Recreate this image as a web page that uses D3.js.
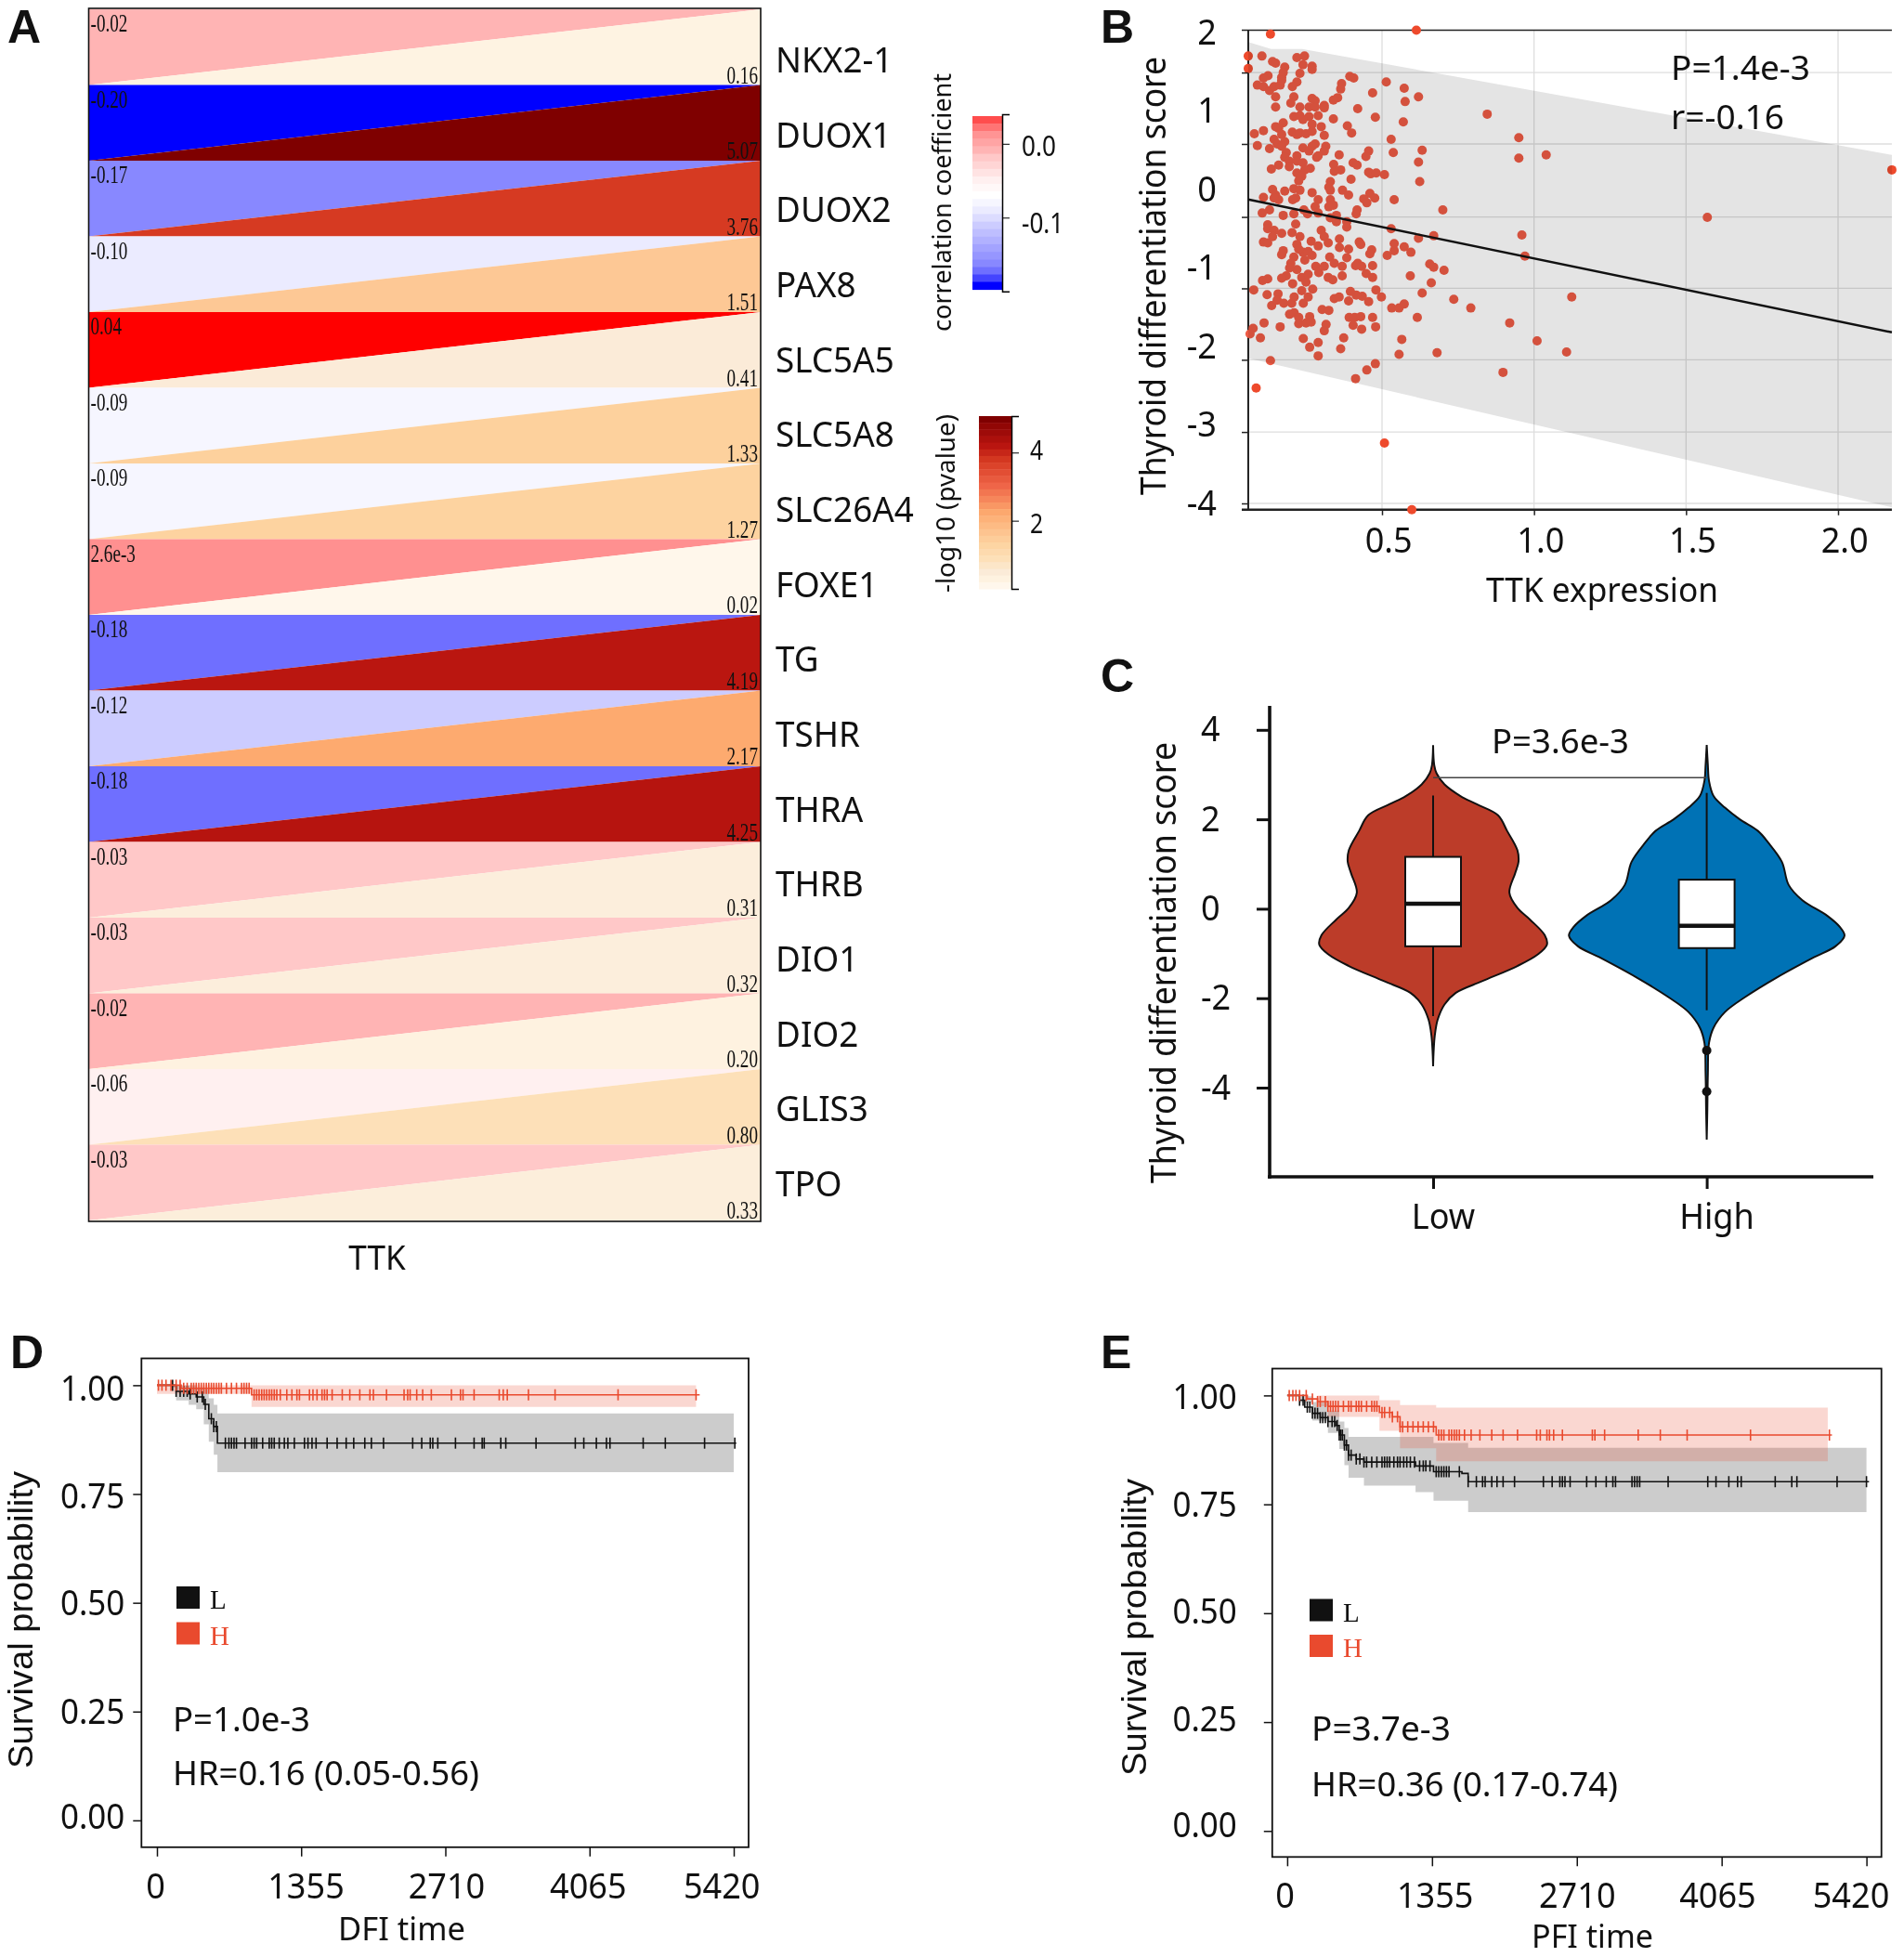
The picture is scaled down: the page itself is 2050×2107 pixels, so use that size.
<!DOCTYPE html>
<html>
<head>
<meta charset="utf-8">
<script src="https://cdn.jsdelivr.net/npm/d3@7"></script>
<style>
  body { margin: 0; background: #fff; }
  text { font-family: "Noto Sans", sans-serif; fill: #111; }
</style>
</head>
<body>
<svg id="fig" width="2050" height="2107"></svg>
<script>
// panel A
const genes = ["NKX2-1","DUOX1","DUOX2","PAX8","SLC5A5","SLC5A8","SLC26A4","FOXE1","TG","TSHR","THRA","THRB","DIO1","DIO2","GLIS3","TPO"];
const corrValues = [-0.02,-0.20,-0.17,-0.10,0.04,-0.09,-0.09,0.0026,-0.18,-0.12,-0.18,-0.03,-0.03,-0.02,-0.06,-0.03];
const corrText = ["-0.02","-0.20","-0.17","-0.10","0.04","-0.09","-0.09","2.6e-3","-0.18","-0.12","-0.18","-0.03","-0.03","-0.02","-0.06","-0.03"];
const logP = [0.16,5.07,3.76,1.51,0.41,1.33,1.27,0.02,4.19,2.17,4.25,0.31,0.32,0.20,0.80,0.33];
const corrStops = [-0.2,-0.19,-0.18,-0.17,-0.12,-0.10,-0.09,-0.08,-0.06,-0.03,-0.02,0.0026,0.04];
const corrColors = ["#0000ff","#4444ff","#6f6fff","#8888ff","#ccccff","#ebebff","#f6f6ff","#ffffff","#fff0f0","#ffc8c8","#ffb4b4","#ff9090","#ff0000"];
const pStops = [0,0.16,0.41,0.8,1.3,1.51,2.17,3,3.76,4.2,5.07];
const pColors = ["#fff7ec","#fef3e2","#fbebd8","#fde0b8","#fdd29e","#fdc895","#fdaa6f","#ef6548","#d63a22","#b91510","#7f0000"];
const corrLegendBins = [0.02,0.01,0,-0.01,-0.02,-0.03,-0.04,-0.05,-0.06,-0.07,-0.08,-0.09,-0.10,-0.11,-0.12,-0.13,-0.14,-0.15,-0.16,-0.17,-0.18,-0.19,-0.20];
const pLegendBins = [5.07,4.8,4.6,4.4,4.2,4,3.8,3.6,3.4,3.2,3,2.8,2.6,2.4,2.2,2,1.8,1.6,1.4,1.2,1,0.8,0.6,0.4,0.2,0];

// panel B, [TTK, score]
const scatterPoints = [[.105,1.70],[.14,1.63],[.15,1.61],[.22,1.68],[.245,1.70],[.24,1.59],[.27,1.57],[.27,1.53],[.18,1.56],[.175,1.49],[.17,1.43],[.23,1.48],[.125,1.45],[.11,1.42],[.09,1.33],[.11,1.31],[.13,1.26],[.145,1.31],[.165,1.33],[.17,1.39],[.22,1.37],[.205,1.31],[.15,1.18],[.15,1.05],[.21,1.18],[.20,1.10],[.27,1.16],[.28,1.13],[.23,1.05],[.26,1.05],[.28,1.05],[.31,1.07],[.31,1.04],[.21,.93],[.23,.94],[.26,.93],[.24,.89],[.29,.94],[.27,.83],[.30,.80],[.175,.85],[.15,.80],[.16,.78],[.08,.71],[.11,.75],[.205,.73],[.22,.70],[.23,.72],[.25,.71],[.27,.74],[.31,.69],[.17,.70],[.145,.64],[.18,.61],[.09,.56],[.13,.52],[.155,.58],[.17,.55],[.24,.53],[.26,.49],[.28,.58],[.27,.55],[.315,.55],[.31,.49],[.285,.41],[.29,.43],[.22,.43],[.185,.47],[.18,.41],[.195,.36],[.16,.31],[.195,.29],[.136,.26],[.22,.36],[.24,.34],[.264,.27],[.246,.25],[.22,.21],[.236,.17],[.226,.11],[.14,.00],[.18,-.02],[.15,-.07],[.16,-.13],[.11,-.10],[.145,-.11],[.21,.01],[.23,-.01],[.216,-.11],[.206,-.13],[.27,-.04],[.29,-.13],[.28,-.22],[.33,.10],[.325,.03],[.33,-.01],[.33,-.13],[.34,-.20],[.325,-.22],[.37,-.01],[.39,-.07],[.46,-.05],[.476,-.11],[.44,-.12],[.45,-.17],[.54,-.13],[.70,-.26],[.13,-.26],[.106,-.30],[.175,-.33],[.21,-.31],[.243,-.26],[.255,-.31],[.29,-.30],[.35,-.33],[.33,-.36],[.35,-.41],[.384,-.41],[.384,-.48],[.418,-.26],[.415,-.31],[.216,-.44],[.124,-.45],[.124,-.50],[.145,-.52],[.14,-.60],[.17,-.56],[.204,-.55],[.23,-.60],[.11,-.67],[.124,-.68],[.30,-.52],[.31,-.60],[.323,-.68],[.36,-.63],[.36,-.74],[.39,-.76],[.425,-.67],[.43,-.70],[.466,-.77],[.46,-.82],[.517,-.84],[.54,-.78],[.54,-.69],[.573,-.73],[.595,-.80],[.53,-.50],[.62,-.62],[.67,-.59],[.96,-.58],[.97,-.85],[.22,-.70],[.175,-.78],[.17,-.83],[.21,-.86],[.24,-.80],[.267,-.66],[.29,-.72],[.27,-.84],[.246,-.90],[.20,-.94],[.328,-.86],[.343,-.94],[.384,-.87],[.369,-.98],[.42,-.94],[.433,-.98],[.413,-.97],[.469,-.97],[.448,-1.07],[.469,-1.12],[.657,-.95],[.67,-.99],[.704,-1.03],[.593,-1.10],[.662,-1.19],[.22,-1.02],[.185,-1.10],[.17,-1.13],[.206,-1.20],[.236,-1.12],[.25,-1.18],[.282,-.98],[.292,-1.06],[.31,-.98],[.323,-1.12],[.338,-1.15],[.369,-1.10],[.95,.66],[.95,.40],[1.04,.44],[.846,.96],[.53,.64],[.537,.47],[.632,.50],[.62,.35],[.624,.10],[.57,.86],[.478,.92],[.62,1.18],[.576,1.12],[.573,1.29],[.514,1.37],[.469,1.23],[.42,1.03],[.394,1.44],[.407,1.42],[.367,1.35],[.364,1.28],[.354,1.17],[.34,1.14],[.34,.90],[.386,.81],[.40,.72],[.456,.49],[.447,.42],[.359,.44],[.405,.34],[.418,.31],[.341,.32],[.364,.25],[.343,.23],[.398,.13],[.456,.22],[.463,.20],[.481,.21],[.508,.19],
[.078,-1.28],[.122,-1.34],[.158,-1.33],[.107,-1.16],[.124,-1.14],[.137,-1.48],[.155,-1.41],[.177,-1.45],[.203,-1.45],[.211,-1.37],[.236,-1.29],[.257,-1.37],[.272,-1.27],[.241,-1.45],[.196,-1.59],[.211,-1.57],[.226,-1.63],[.226,-1.71],[.262,-1.62],[.25,-1.70],[.267,-1.69],[.112,-1.70],[.165,-1.75],[.076,-1.77],[.066,-1.84],[.10,-1.89],[.316,-1.72],[.31,-1.80],[.241,-1.90],[.29,-1.95],[.262,-2.01],[.29,-2.12],[.374,-1.89],[.364,-2.03],[.39,-1.42],[.343,-1.39],[.359,-1.37],[.303,-1.53],[.325,-1.54],[.392,-1.63],[.41,-1.63],[.43,-1.62],[.469,-1.63],[.479,-1.75],[.405,-1.73],[.433,-1.78],[.456,-1.43],[.435,-1.36],[.415,-1.345],[.396,-1.30],[.48,-1.28],[.498,-1.37],[.532,-1.51],[.556,-1.51],[.573,-1.46],[.616,-1.63],[.565,-1.91],[.556,-2.10],[.681,-2.08],[.632,-1.32],[.736,-1.40],[.792,-1.51],[.92,-1.70],[1.01,-1.93],[1.107,-2.07],[.898,-2.33],[1.124,-1.37],[.478,-2.22],[.45,-2.30],[.413,-2.41],[.133,-2.18],
[.226,-.76],[.257,-.79],[.196,-1.0],[.257,-1.08],[1.57,-.355]];
const scatterOutliers = [[.133,1.98],[.613,2.03],[.06,1.70],[.06,1.54],[.086,-2.53],[.508,-3.23],[.598,-4.08],[2.177,.25]];
const bandTop = [[.06,1.88],[.135,1.79],[.237,1.79],[2.177,.44]];
const bandBottom = [[.06,-2.15],[2.177,-4.05]];
const fitLine = [[.06,-.127],[2.177,-1.82]];
const scatterGridY = [1.49,.58,-.35,-1.26,-2.17,-3.09,-4];
const scatterYLabels = [2,1,0,-1,-2,-3,-4];
const scatterXTicks = [.5,1,1.5,2];

// panel C
const lowScore = [3.66,3.21,3.03,2.78,2.52,2.34,2.09,1.74,1.31,1.05,.79,.36,.02,-.24,-.59,-.80,-1.02,-1.28,-1.62,-1.88,-2.14,-2.48,-2.83,-3.17,-3.52];
const lowDensity = [0,.01,.03,.10,.24,.38,.57,.65,.74,.75,.72,.67,.74,.85,.98,1,.92,.74,.43,.20,.10,.04,.015,.005,0];
const highScore = [3.66,3.21,2.86,2.52,2.26,2,1.74,1.48,1.05,.53,.19,-.16,-.41,-.60,-.84,-1.10,-1.53,-1.97,-2.31,-2.66,-3,-3.69,-4.55,-5.16];
const highDensity = [0,.01,.02,.06,.16,.29,.45,.54,.66,.72,.84,1.06,1.17,1.21,1.13,.93,.62,.34,.16,.06,.02,.01,.005,0];
const groups = ["Low","High"];
const boxLow = {lo:-2.40,q1:-.84,med:.11,q3:1.16,hi:2.53};
const boxHigh = {lo:-2.27,q1:-.88,med:-.38,q3:.65,hi:2.59};
const highOutliers = [-3.17,-4.09];

// panels D and E
const kmXTicks = [0,1355,2710,4065,5420];
const kmYTicks = [1,.75,.5,.25,0];
const dfiLowT = [0,132,180,298,369,440,487,534,568,5444];
const dfiLowS = [1,1,.986,.98,.973,.956,.923,.905,.867,.867];
const dfiLowBandT = [132,180,298,369,440,487,534,568,5420];
const dfiLowBandLo = [.995,.965,.955,.945,.91,.87,.84,.80,.80];
const dfiLowBandHi = [1,1,1,.995,.99,.97,.955,.935,.935];
const dfiLowCens = [147,180,218,251,284,312,378,426,454,511,534,558,643,676,700,724,747,828,889,913,937,993,1055,1078,1102,1149,1197,1230,1291,1386,1419,1457,1495,1599,1693,1778,1849,1953,2015,2129,2403,2488,2568,2592,2639,2805,2980,3056,3075,3231,3278,3562,3931,4011,4129,4224,4257,4569,4777,5146,5430];
const dfiHighT = [0,227,889,5100];
const dfiHighS = [1,.993,.978,.978];
const dfiHighBandT = [0,889,5066];
const dfiHighBandLo = [.98,.95,.95];
const dfiHighBandHi = [1,1,1];
const dfiHighCens = [14,47,85,132,180,218,251,284,322,345,369,393,416,440,464,487,511,534,558,582,605,653,700,747,795,818,842,866,913,937,960,984,1007,1031,1055,1078,1102,1126,1159,1220,1268,1315,1339,1433,1466,1504,1551,1575,1599,1646,1741,1812,1906,2001,2034,2157,2322,2356,2379,2441,2497,2578,2767,2852,2876,2980,3216,3254,3292,3491,3741,4333,5066];

const pfiLowT = [0,68,116,164,236,309,381,453,487,535,574,646,718,1201,1369,1635,1693,5444];
const pfiLowS = [1,1,.989,.973,.959,.949,.94,.931,.909,.886,.863,.854,.847,.838,.825,.821,.802,.802];
const pfiLowBandT = [68,116,236,381,487,535,574,718,1201,1369,1693,5420];
const pfiLowBandHi = [1,.998,.985,.965,.94,.925,.905,.905,.905,.891,.88,.88];
const pfiLowBandLo = [1,.984,.942,.914,.877,.84,.811,.793,.778,.758,.732,.732];
const pfiLowCens = [116,149,188,212,236,260,284,309,333,357,381,420,444,468,487,501,516,535,555,574,598,646,680,718,743,791,839,887,911,935,959,998,1032,1056,1090,1119,1152,1191,1239,1273,1297,1336,1394,1418,1442,1466,1490,1514,1611,1693,1770,1828,1852,1914,1963,2020,2127,2397,2479,2551,2575,2599,2647,2802,2888,2985,3047,3072,3226,3250,3274,3298,3564,3935,4012,4132,4214,4248,4566,4721,4769,5145,5420];
const pfiHighT = [0,188,284,381,863,984,1056,1394,5097];
const pfiHighS = [1,.992,.986,.975,.961,.951,.928,.909,.909];
const pfiHighBandT = [0,284,381,863,1056,1394,5058];
const pfiHighBandHi = [1,1,1,.989,.978,.972,.972];
const pfiHighBandLo = [1,.975,.951,.919,.879,.849,.849];
const pfiHighCens = [19,53,82,116,178,236,284,309,357,381,405,429,453,477,526,574,598,646,670,694,743,791,815,839,887,911,959,984,1032,1056,1080,1128,1177,1225,1273,1321,1369,1418,1442,1466,1514,1538,1563,1586,1611,1659,1721,1803,1914,2020,2155,2334,2368,2430,2454,2493,2575,2855,2879,2970,3284,3491,3742,4335,5073];

const svg = d3.select("#fig");
const RED = "#e94a2e";

function txt(g, x, y, str, o = {}) {
  const t = g.append("text")
    .attr("text-anchor", o.anchor || "start")
    .attr("font-size", o.size || 35)
    .attr("transform", `translate(${x},${y})${o.rotate ? " rotate(-90)" : ""}${o.k ? ` scale(${o.k},1)` : ""}`)
    .text(str);
  if (o.len) t.attr("textLength", o.len).attr("lengthAdjust", "spacingAndGlyphs");
  if (o.fill) t.style("fill", o.fill);
  if (o.family) t.style("font-family", o.family);
  if (o.weight) t.attr("font-weight", o.weight);
  return t;
}

// narrow the axis labels, the originals are condensed
function squeeze(sel, k) {
  sel.each(function () {
    const t = d3.select(this);
    const x = +t.attr("x") || 0;
    t.attr("transform", `translate(${x},0) scale(${k},1)`).attr("x", 0);
  });
}

const letters = [["A",8,45.5],["B",1185,45.5],["C",1185,745],["D",11,1472.6],["E",1185,1472.6]];
letters.forEach(l => txt(svg, l[1], l[2], l[0], {size: 50, weight: 700, family: "Liberation Sans"}));

/* ---------- A ---------- */
const gA = svg.append("g");
const xA = d3.scaleLinear().domain([0, 1]).range([95.5, 819]);
const yA = d3.scaleBand().domain(genes).range([10, 1314]);
const yGene = d3.scalePoint().domain(genes).range([78, 1288]);
const corrColor = d3.scaleLinear().domain(corrStops).range(corrColors);
const pColor = d3.scaleLinear().domain(pStops).range(pColors);

genes.forEach((gene, i) => {
  const t = yA(gene), b = t + yA.bandwidth();
  gA.append("polygon")
    .attr("points", [[xA(0), t], [xA(1), t], [xA(0), b]].join(" "))
    .attr("fill", corrColor(corrValues[i]));
  gA.append("polygon")
    .attr("points", [[xA(1), t], [xA(1), b], [xA(0), b]].join(" "))
    .attr("fill", pColor(logP[i]));
  txt(gA, xA(0) + 2, t + 24, corrText[i], {size: 27, k: .71, family: "Liberation Serif"});
  txt(gA, xA(1) - 3, b - 2, logP[i].toFixed(2), {size: 27, k: .71, anchor: "end", family: "Liberation Serif"});
  txt(gA, 835, yGene(gene), gene, {size: 38, k: .97});
});
gA.append("rect").attr("x", xA(0)).attr("y", 9).attr("width", xA(1) - xA(0)).attr("height", 1306)
  .attr("fill", "none").attr("stroke", "#111").attr("stroke-width", 1.6);
txt(gA, 406, 1367, "TTK", {size: 37, anchor: "middle", k: .95});

// legend scales
const corrLegend = d3.scaleBand().domain(corrLegendBins).range([125, 311.6]);
gA.selectAll("rect.cl").data(corrLegendBins).join("rect").attr("class", "cl")
  .attr("x", 1047).attr("width", 32).attr("y", d => corrLegend(d))
  .attr("height", corrLegend.bandwidth() + .5).attr("fill", d => corrColor(d));
const corrAxisScale = d3.scaleLinear().domain([-0.2, 0.04]).range([313.8, 123]);
const corrAxis = gA.append("g").attr("transform", "translate(1079,0)")
  .call(d3.axisRight(corrAxisScale).tickValues([0, -0.1]).tickSize(8).tickFormat(d => d.toFixed(1)).tickPadding(13));
corrAxis.selectAll("text").attr("font-size", 30).attr("dy", d => d === 0 ? "13px" : "16px");
squeeze(corrAxis.selectAll("text"), .87);
corrAxis.select(".domain").attr("stroke-width", 1.5);
txt(gA, 1024, 357, "correlation coefficient", {size: 28, rotate: true, len: 278});

const pLegend = d3.scaleBand().domain(pLegendBins).range([448, 634]);
gA.selectAll("rect.pl").data(pLegendBins).join("rect").attr("class", "pl")
  .attr("x", 1054).attr("width", 35).attr("y", d => pLegend(d))
  .attr("height", pLegend.bandwidth() + .5).attr("fill", d => pColor(d));
const pAxisScale = d3.scaleLinear().domain([0, 5.07]).range([634, 448]);
const pAxis = gA.append("g").attr("transform", "translate(1089,0)")
  .call(d3.axisRight(pAxisScale).tickValues([2, 4]).tickSize(8).tickPadding(12).tickFormat(d => String(d)));
pAxis.selectAll("text").attr("font-size", 29).attr("dy", d => d === 4 ? "7px" : "13px");
squeeze(pAxis.selectAll("text"), .85);
pAxis.select(".domain").attr("stroke-width", 1.5);
txt(gA, 1028, 638, "-log10 (pvalue)", {size: 28, rotate: true, len: 192});

/* ---------- B ---------- */
const gB = svg.append("g");
const xB = d3.scaleLinear().domain([.5, 2]).range([1488, 1979]);
const yB = d3.scaleLinear().domain([-4, 2]).range([542, 35]);
const bLeft = xB(.06), bRight = xB(2.177), bTop = yB(2.03), bBottom = yB(-4.08);

gB.selectAll("line.gy").data(scatterGridY).join("line").attr("class", "gy")
  .attr("x1", bLeft).attr("x2", bRight).attr("y1", d => yB(d)).attr("y2", d => yB(d))
  .attr("stroke", "#dedede").attr("stroke-width", 1.3);
gB.selectAll("line.gx").data(scatterXTicks).join("line").attr("class", "gx")
  .attr("x1", d => xB(d)).attr("x2", d => xB(d)).attr("y1", bTop).attr("y2", bBottom)
  .attr("stroke", "#dedede").attr("stroke-width", 1.3);

gB.append("line").attr("x1", bLeft - 7).attr("x2", bRight).attr("y1", bTop).attr("y2", bTop)
  .attr("stroke", "#222").attr("stroke-width", 1.6);
gB.append("line").attr("x1", bLeft - 7).attr("x2", bRight).attr("y1", bBottom).attr("y2", bBottom)
  .attr("stroke", "#222").attr("stroke-width", 2.4);
gB.append("line").attr("x1", bLeft).attr("x2", bLeft).attr("y1", bTop).attr("y2", bBottom)
  .attr("stroke", "#222").attr("stroke-width", 2);

gB.selectAll("circle.pt").data(scatterPoints).join("circle").attr("class", "pt")
  .attr("cx", d => xB(d[0])).attr("cy", d => yB(d[1])).attr("r", 5).attr("fill", "#ee5a44");
gB.selectAll("circle.out").data(scatterOutliers).join("circle").attr("class", "out")
  .attr("cx", d => xB(d[0])).attr("cy", d => yB(d[1])).attr("r", 5).attr("fill", "#ee4a2c");

const bandLine = d3.line().x(d => xB(d[0])).y(d => yB(d[1]));
gB.append("path")
  .attr("d", bandLine(bandTop.concat(bandBottom.slice().reverse())) + "Z")
  .attr("fill", "#e4e4e4").style("mix-blend-mode", "multiply");
gB.append("path").attr("d", bandLine(fitLine)).attr("fill", "none").attr("stroke", "#111").attr("stroke-width", 2.4);

const yBTicks = gB.append("g").attr("transform", `translate(${bLeft},0)`)
  .call(d3.axisLeft(yB).tickValues(scatterGridY).tickSize(7).tickFormat(""));
yBTicks.select(".domain").remove();
yBTicks.selectAll("line").attr("stroke", "#222").attr("stroke-width", 1.5);

const yBLabels = gB.append("g").attr("transform", "translate(1310,0)")
  .call(d3.axisLeft(yB).tickValues(scatterYLabels).tickSize(0).tickPadding(0).tickFormat(d => String(d)));
yBLabels.select(".domain").remove();
yBLabels.selectAll("text").attr("font-size", 38);
squeeze(yBLabels.selectAll("text"), .95);

const xBAxis = gB.append("g").attr("transform", `translate(0,${bBottom})`)
  .call(d3.axisBottom(xB).tickValues(scatterXTicks).tickSize(6).tickPadding(13).tickFormat(d => d.toFixed(1)));
xBAxis.select(".domain").remove();
xBAxis.selectAll("line").attr("stroke", "#222").attr("stroke-width", 1.5);
xBAxis.selectAll("text").attr("font-size", 38).attr("dx", 7);
squeeze(xBAxis.selectAll("text"), .95);

txt(gB, 1255, 533, "Thyroid differentiation score", {size: 39, rotate: true, len: 472});
txt(gB, 1600, 648, "TTK expression", {size: 37, len: 250});
txt(gB, 1799, 86, "P=1.4e-3", {size: 36, len: 150});
txt(gB, 1799, 139, "r=-0.16", {size: 36, len: 122});

/* ---------- C ---------- */
const gC = svg.append("g");
const yC = d3.scaleLinear().domain([-4, 4]).range([1171, 785.8]);
const xC = d3.scalePoint().domain(groups).range([1543, 1837.6]);
const widthC = d3.scaleLinear().domain([0, 1]).range([0, 122.6]);

function drawViolin(cx, scores, density, color) {
  const rows = scores.map((s, i) => [s, density[i]]);
  const area = d3.area()
    .y(d => yC(d[0]))
    .x0(d => cx - widthC(d[1]))
    .x1(d => cx + widthC(d[1]))
    .curve(d3.curveCatmullRom);
  gC.append("path").attr("d", area(rows)).attr("fill", color).attr("stroke", "#111").attr("stroke-width", 2);
}
function drawBox(cx, b) {
  const hw = 30;
  gC.append("line").attr("x1", cx).attr("x2", cx).attr("y1", yC(b.hi)).attr("y2", yC(b.lo))
    .attr("stroke", "#111").attr("stroke-width", 2);
  gC.append("rect").attr("x", cx - hw).attr("width", hw * 2).attr("y", yC(b.q3)).attr("height", yC(b.q1) - yC(b.q3))
    .attr("fill", "#fff").attr("stroke", "#111").attr("stroke-width", 2);
  gC.append("line").attr("x1", cx - hw).attr("x2", cx + hw).attr("y1", yC(b.med)).attr("y2", yC(b.med))
    .attr("stroke", "#111").attr("stroke-width", 4.5);
}
drawViolin(xC("Low"), lowScore, lowDensity, "#bc3c29");
drawViolin(xC("High"), highScore, highDensity, "#0072b5");
drawBox(xC("Low"), boxLow);
drawBox(xC("High"), boxHigh);
gC.selectAll("circle").data(highOutliers).join("circle")
  .attr("cx", xC("High")).attr("cy", d => yC(d)).attr("r", 5).attr("fill", "#111");
gC.append("line").attr("x1", xC("Low")).attr("x2", xC("High")).attr("y1", yC(2.93)).attr("y2", yC(2.93))
  .attr("stroke", "#444").attr("stroke-width", 1.5);

const yCAxis = gC.append("g").attr("transform", "translate(1367,0)")
  .call(d3.axisLeft(yC).tickValues([4, 2, 0, -2, -4]).tickSize(14).tickFormat(""));
yCAxis.select(".domain").remove();
yCAxis.selectAll("line").attr("stroke", "#111").attr("stroke-width", 3);
gC.append("line").attr("x1", 1367).attr("x2", 1367).attr("y1", 760).attr("y2", 1269).attr("stroke", "#111").attr("stroke-width", 3.6);
gC.append("line").attr("x1", 1365).attr("x2", 2017).attr("y1", 1267).attr("y2", 1267).attr("stroke", "#111").attr("stroke-width", 3.6);
const yCLabels = gC.append("g").attr("transform", "translate(1293,0)")
  .call(d3.axisRight(yC).tickValues([4, 2, 0, -2, -4]).tickSize(0).tickPadding(0).tickFormat(d => String(d)));
yCLabels.select(".domain").remove();
yCLabels.selectAll("text").attr("font-size", 38);
squeeze(yCLabels.selectAll("text"), .95);
const xCAxis = gC.append("g").attr("transform", "translate(0,1267)")
  .call(d3.axisBottom(xC).tickSize(13).tickPadding(16));
xCAxis.select(".domain").remove();
xCAxis.selectAll("line").attr("stroke", "#111").attr("stroke-width", 3);
xCAxis.selectAll("text").attr("font-size", 38).attr("dx", 11);
squeeze(xCAxis.selectAll("text"), .95);
txt(gC, 1266, 1274, "Thyroid differentiation score", {size: 39, rotate: true, len: 475});
txt(gC, 1606, 811, "P=3.6e-3", {size: 36, len: 148});

/* ---------- D, E ---------- */
function drawKM(c) {
  const g = svg.append("g");
  const x = d3.scaleLinear().domain([0, 5420]).range(c.xRange);
  const y = d3.scaleLinear().domain([0, 1]).range(c.yRange);
  const { left, right, top, bottom } = c.frame;

  const band = d3.area().x(d => x(d[0])).y0(d => y(d[1])).y1(d => y(d[2])).curve(d3.curveStepAfter);
  const stepLine = d3.line().x(d => x(d[0])).y(d => y(d[1])).curve(d3.curveStepAfter);

  function series(s, stroke, fill, opacity) {
    g.append("path").attr("d", band(s.bandT.map((t, i) => [t, s.bandLo[i], s.bandHi[i]])))
      .attr("fill", fill).attr("opacity", opacity);
    return () => {
      g.append("path").attr("d", stepLine(s.t.map((t, i) => [t, s.s[i]])))
        .attr("fill", "none").attr("stroke", stroke).attr("stroke-width", 1.6);
      const surv = t => s.s[Math.max(0, d3.bisectRight(s.t, t) - 1)];
      g.append("g").selectAll("line").data(s.cens).join("line")
        .attr("x1", d => x(d)).attr("x2", d => x(d))
        .attr("y1", d => y(surv(d)) - 6).attr("y2", d => y(surv(d)) + 6)
        .attr("stroke", stroke).attr("stroke-width", 1.6);
    };
  }
  const lowLine = series(c.low, "#111", "#000", .2);
  const highLine = series(c.high, RED, RED, .22);
  lowLine();
  highLine();

  g.append("rect").attr("x", left).attr("y", top).attr("width", right - left).attr("height", bottom - top)
    .attr("fill", "none").attr("stroke", "#111").attr("stroke-width", 1.8);

  const xAxis = g.append("g").attr("transform", `translate(0,${bottom})`)
    .call(d3.axisBottom(x).tickValues(kmXTicks).tickSize(10).tickPadding(c.xPad).tickFormat(d => String(d)));
  xAxis.select(".domain").remove();
  xAxis.selectAll("line").attr("stroke", "#111").attr("stroke-width", 1.5);
  xAxis.selectAll("text").attr("font-size", 38).attr("dx", (d, i) => c.xNudge[i]);
  squeeze(xAxis.selectAll("text"), .95);

  const yAxis = g.append("g").attr("transform", `translate(${left},0)`)
    .call(d3.axisLeft(y).tickValues(kmYTicks).tickSize(9).tickPadding(c.yPad).tickFormat(d => d.toFixed(2)));
  yAxis.select(".domain").remove();
  yAxis.selectAll("line").attr("stroke", "#111").attr("stroke-width", 1.5);
  yAxis.selectAll("text").attr("font-size", 38).attr("dy", (d, i) => (c.yNudge[i] + 13) + "px");
  squeeze(yAxis.selectAll("text"), .92);

  txt(g, c.yTitle[0], c.yTitle[1], "Survival probability", {size: 37, rotate: true, len: 320, family: "Liberation Sans"});
  txt(g, c.xTitle[0], c.xTitle[1], c.xName, {size: c.xTitle[3], len: c.xTitle[2]});

  g.append("rect").attr("x", c.legend[0]).attr("y", c.legend[1]).attr("width", 25).attr("height", 24).attr("fill", "#111");
  g.append("rect").attr("x", c.legend[0]).attr("y", c.legend[1] + 38.5).attr("width", 25).attr("height", 24).attr("fill", RED);
  txt(g, c.legend[0] + 36, c.legend[1] + 24, "L", {size: 29, family: "Liberation Serif"});
  txt(g, c.legend[0] + 36, c.legend[1] + 62.5, "H", {size: 29, family: "Liberation Serif", fill: RED});

  txt(g, c.stats[0], c.stats[1], c.pText, {size: 36, len: c.stats[3]});
  txt(g, c.stats[0], c.stats[2], c.hrText, {size: 36, len: c.stats[4]});
}

drawKM({
  xRange: [169, 790], yRange: [1959.9, 1491.4],
  frame: {left: 152.3, right: 806, top: 1462.5, bottom: 1988.8},
  xPad: 18, yPad: 9, xNudge: [-2, 5, 1, -2, -14], yNudge: [3, 2, 0, 0, -4],
  xName: "DFI time", xTitle: [364, 2089, 137, 34], yTitle: [35, 1904],
  legend: [190, 1708], stats: [186, 1863.5, 1922, 148, 330],
  pText: "P=1.0e-3", hrText: "HR=0.16 (0.05-0.56)",
  low: {t: dfiLowT, s: dfiLowS, bandT: dfiLowBandT, bandLo: dfiLowBandLo, bandHi: dfiLowBandHi, cens: dfiLowCens},
  high: {t: dfiHighT, s: dfiHighS, bandT: dfiHighBandT, bandLo: dfiHighBandLo, bandHi: dfiHighBandHi, cens: dfiHighCens}
});
drawKM({
  xRange: [1385.9, 2009.6], yRange: [1971.3, 1502.4],
  frame: {left: 1369.8, right: 2025.7, top: 1473.5, bottom: 1999.3},
  xPad: 18, yPad: 29, xNudge: [-3, 3, 0, -5, -18], yNudge: [1, 0, -2, -4, -6.5],
  xName: "PFI time", xTitle: [1649, 2097, 131, 34], yTitle: [1234, 1912],
  legend: [1410, 1721.5], stats: [1412, 1874.4, 1933.6, 150, 330],
  pText: "P=3.7e-3", hrText: "HR=0.36 (0.17-0.74)",
  low: {t: pfiLowT, s: pfiLowS, bandT: pfiLowBandT, bandLo: pfiLowBandLo, bandHi: pfiLowBandHi, cens: pfiLowCens},
  high: {t: pfiHighT, s: pfiHighS, bandT: pfiHighBandT, bandLo: pfiHighBandLo, bandHi: pfiHighBandHi, cens: pfiHighCens}
});
</script>
</body>
</html>
